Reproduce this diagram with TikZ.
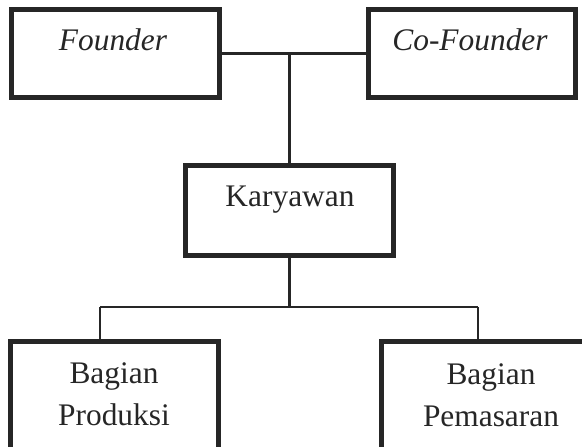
\documentclass[tikz,border=0pt]{standalone}
\usepackage{fontspec}
\setmainfont{Liberation Serif}
\usetikzlibrary{positioning}
\tikzset{orgbox/.style = {draw=black!85, line width=2.5pt, inner sep=0,
                          minimum width=104pt, minimum height=44pt}}
\tikzset{orgtext/.style = {font=\fontsize{15.7}{21}\selectfont, text=black!85,
                           anchor=base, align=center, inner sep=0}}
\tikzset{link/.style = {draw=black!85, line width=1.1pt}}

\begin{document}
\begin{tikzpicture}[x=0.5pt, y=-0.5pt]
    \useasboundingbox (0,0) rectangle (582,446);
    \clip (0,0) rectangle (582,446);

    \node [orgbox] (founder) at (115,53.5) {};
    \node [orgbox, minimum width=103.5pt] (cofounder) at (472,53.5) {};
    \node [orgbox, minimum height=45.25pt] (karyawan) at (289.5,210.25) {};
    \node [orgbox, minimum height=60pt] (produksi) at (114.5,401.5) {};
    \node [orgbox, minimum height=60pt] (pemasaran) at (485.5,401.5) {};

    \node [orgtext] (founderlbl) at (113,50) {\itshape Founder};
    \node [orgtext] (cofounderlbl) at (470,50) {\itshape Co-Founder};
    \node [orgtext] (karyawanlbl) at (290,206) {Karyawan};
    \node [orgtext] (produksilbl) at (114,425) {Bagian\\Produksi};
    \node [orgtext] (pemasaranlbl) at (491,426.5) {Bagian\\Pemasaran};

    \coordinate (top) at (founder.east -| karyawan.north);
    \coordinate (split) at (289.5,307);
    \coordinate (leftdrop) at (100,307);
    \coordinate (rightdrop) at (478,307);

    \draw [link] (founder.east) -- (cofounder.west);
    \draw [link] (top) -- (karyawan.north);
    \draw [link] (karyawan.south) -- (split);
    \draw [link] (leftdrop) -- (rightdrop);
    \draw [link] (leftdrop) -- (leftdrop |- produksi.north);
    \draw [link] (rightdrop) -- (rightdrop |- pemasaran.north);
  \end{tikzpicture}
\end{document}
